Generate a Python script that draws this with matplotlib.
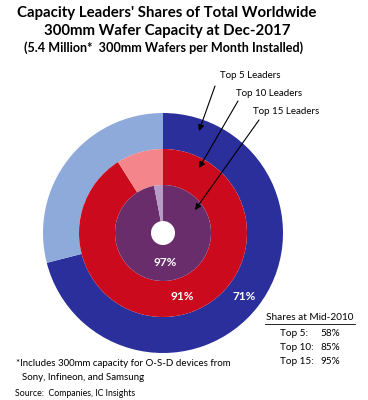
import numpy as np
import matplotlib.pyplot as plt

# ring data (share of worldwide 300mm capacity, %)
ring_labels = ["Top 5 Leaders", "Top 10 Leaders", "Top 15 Leaders"]
ring_shares = [71, 91, 97]
ring_colors = [("#2a2f9c", "#8eaadb"), ("#cc0a1e", "#f4858a"), ("#6a2d6c", "#b99bc8")]
mid2010_labels = ["Top 5:", "Top 10:", "Top 15:"]
mid2010_shares = [58, 85, 95]

W, H = 368, 400
fig = plt.figure(figsize=(W / 100, H / 100), dpi=100)
ax = fig.add_axes([0, 0, 1, 1])
plt.rcParams['font.family'] = ['Lato', 'DejaVu Sans']

def py(y):
    # pixel row -> data y
    return H - y

cx, cy = 163, py(233)
radii = [120, 84, 48]
width = 36

for share, r, cols in zip(ring_shares, radii, ring_colors):
    ax.pie([share, 100 - share], radius=r, center=(cx, cy), startangle=90,
           counterclock=False, colors=cols,
           wedgeprops=dict(width=width, linewidth=0))

ax.set_xlim(0, W)
ax.set_ylim(0, H)
ax.set_aspect('equal')
ax.axis('off')

# percent labels
pct_pos = [(244, 296), (182, 297), (165, 263)]
for share, (x, y) in zip(ring_shares, pct_pos):
    ax.text(x, py(y), f"{share}%", color="white", fontsize=8.5, fontweight="bold",
            ha="center", va="center")

# callouts
lab_pos = [(220, 75), (236, 94), (253, 112)]
arr_start = [(215, 86), (238, 101), (259, 120)]
arr_end = [(199, 131), (199, 168), (195, 210)]
for lab, (lx, ly), (sx, sy), (ex, ey) in zip(ring_labels, lab_pos, arr_start, arr_end):
    ax.text(lx, py(ly), lab, fontsize=7, ha="left", va="center")
    ax.annotate("", xy=(ex, py(ey)), xytext=(sx, py(sy)),
                arrowprops=dict(arrowstyle="-|>", color="black", lw=0.8,
                                mutation_scale=9, shrinkA=0, shrinkB=0))

# title
ax.text(167, py(13), "Capacity Leaders' Shares of Total Worldwide", fontsize=10.8,
        fontweight="bold", ha="center", va="center")
ax.text(167, py(31), "300mm Wafer Capacity at Dec-2017", fontsize=10.8,
        fontweight="bold", ha="center", va="center")
ax.text(164, py(48), "(5.4 Million*  300mm Wafers per Month Installed)", fontsize=9.1,
        fontweight="bold", ha="center", va="center")

# mid-2010 box
ax.text(310, py(318), "Shares at Mid-2010", fontsize=7.2, ha="center", va="center")
ax.plot([265, 355], [py(324), py(324)], color="black", lw=0.6)
for i, (lab, v) in enumerate(zip(mid2010_labels, mid2010_shares)):
    y = py(334 + i * 14)
    ax.text(280, y, lab, fontsize=7.2, ha="left", va="center")
    ax.text(340, y, f"{v}%", fontsize=7.2, ha="right", va="center")

# footnotes
ax.text(16, py(363), "*Includes 300mm capacity for O-S-D devices from", fontsize=7.0,
        ha="left", va="center")
ax.text(22, py(377), "Sony, Infineon, and Samsung", fontsize=7.0, ha="left", va="center")
ax.text(15, py(394), "Source:  Companies, IC Insights", fontsize=6.3, ha="left", va="center")

fig.savefig("out.png", dpi=100)
